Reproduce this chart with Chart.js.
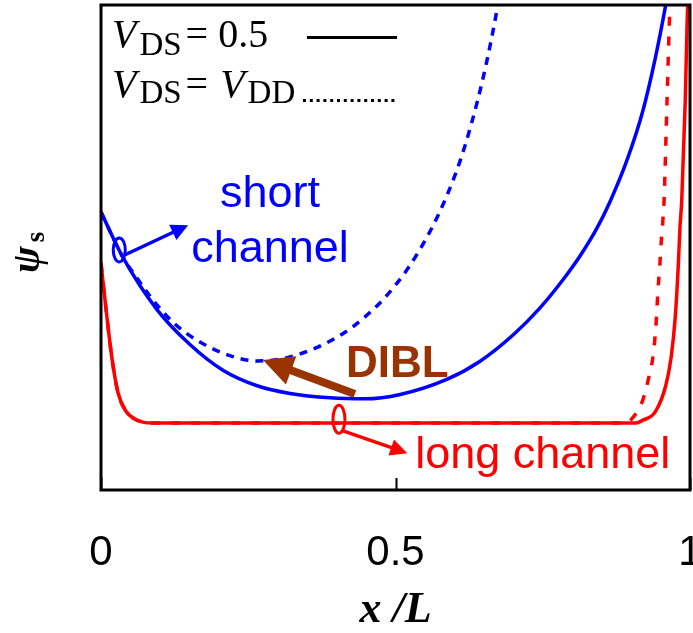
<!DOCTYPE html>
<html>
<head>
<meta charset="utf-8">
<script src="https://cdn.jsdelivr.net/npm/chart.js@4/dist/chart.umd.min.js"></script>
<style>
  html, body { margin: 0; padding: 0; background: #ffffff; }
  #wrap { width: 693px; height: 633px; }
</style>
</head>
<body>
<div id="wrap"><canvas id="c" width="693" height="633"></canvas></div>
<script>
// Horizontal axis: normalised position along the channel
const xTicks = [0, 0.5, 1];
const xTickLabels = ['0', '0.5', '1'];

// Short channel, V_DS = 0.5
const shortLowX = [0.000, 0.037, 0.095, 0.151, 0.207, 0.265, 0.321, 0.389, 0.448, 0.508, 0.587, 0.643, 0.700, 0.745, 0.784, 0.813, 0.842, 0.864, 0.893, 0.920, 0.941, 0.958, 0.970];
const shortLowY = [0.573, 0.480, 0.372, 0.300, 0.247, 0.215, 0.199, 0.190, 0.188, 0.197, 0.228, 0.265, 0.320, 0.375, 0.433, 0.482, 0.540, 0.594, 0.680, 0.782, 0.890, 0.995, 1.080];

// Short channel, V_DS = V_DD
const shortHighX = [0.000, 0.037, 0.061, 0.083, 0.122, 0.168, 0.219, 0.265, 0.309, 0.367, 0.406, 0.428, 0.462, 0.480, 0.499, 0.520, 0.538, 0.559, 0.579, 0.601, 0.618, 0.640, 0.655, 0.668, 0.680];
const shortHighY = [0.573, 0.480, 0.437, 0.400, 0.346, 0.305, 0.277, 0.266, 0.271, 0.294, 0.319, 0.337, 0.372, 0.394, 0.421, 0.455, 0.489, 0.534, 0.584, 0.649, 0.710, 0.806, 0.884, 0.962, 1.044];

// Long channel, V_DS = 0.5
const longLowX = [0.000, 0.010, 0.019, 0.029, 0.041, 0.058, 0.087, 0.300, 0.600, 0.908, 0.920, 0.941, 0.959, 0.968, 0.975, 0.980, 0.983, 0.986, 0.992, 0.995, 0.998];
const longLowY = [0.468, 0.357, 0.268, 0.200, 0.165, 0.146, 0.138, 0.138, 0.138, 0.138, 0.144, 0.161, 0.216, 0.274, 0.357, 0.460, 0.542, 0.598, 0.804, 0.960, 1.050];

// Long channel, V_DS = V_DD
const longHighX = [0.000, 0.010, 0.019, 0.029, 0.041, 0.058, 0.087, 0.300, 0.600, 0.890, 0.900, 0.920, 0.929, 0.937, 0.942, 0.946, 0.949, 0.951, 0.954, 0.956, 0.961, 0.966, 0.968];
const longHighY = [0.468, 0.357, 0.268, 0.200, 0.165, 0.146, 0.138, 0.138, 0.138, 0.138, 0.145, 0.186, 0.227, 0.274, 0.336, 0.419, 0.468, 0.509, 0.557, 0.598, 0.804, 1.000, 1.050];

const BLUE = '#0000ff';
const RED = '#ff0000';
const BROWN = '#993300';

function pairs(xs, ys) {
  return xs.map((x, i) => ({ x: x, y: ys[i] }));
}

// Callouts placed in data units
const callouts = {
  shortRing: { x: 0.031, y: 0.495, rx: 6, ry: 12 },
  shortArrow: { from: [0.041, 0.485], to: [0.148, 0.546] },
  shortText: { x: 0.287, lines: [['short', 0.584], ['channel', 0.470]] },
  longRing: { x: 0.404, y: 0.146, rx: 6, ry: 14 },
  longArrow: { from: [0.411, 0.122], to: [0.520, 0.076] },
  longText: { x: 0.750, y: 0.045, text: 'long channel' },
  diblArrow: { from: [0.431, 0.198], to: [0.275, 0.268] },
  diblText: { x: 0.503, y: 0.233, text: 'DIBL' }
};

function arrow(ctx, x1, y1, x2, y2, color, width, headLen, headW) {
  const ang = Math.atan2(y2 - y1, x2 - x1);
  const bx = x2 - headLen * Math.cos(ang);
  const by = y2 - headLen * Math.sin(ang);
  ctx.save();
  ctx.strokeStyle = color;
  ctx.fillStyle = color;
  ctx.lineWidth = width;
  ctx.lineCap = 'butt';
  ctx.beginPath();
  ctx.moveTo(x1, y1);
  ctx.lineTo(bx + Math.cos(ang), by + Math.sin(ang));
  ctx.stroke();
  const px = -Math.sin(ang), py = Math.cos(ang);
  ctx.beginPath();
  ctx.moveTo(x2, y2);
  ctx.lineTo(bx + px * headW / 2, by + py * headW / 2);
  ctx.lineTo(bx - px * headW / 2, by - py * headW / 2);
  ctx.closePath();
  ctx.fill();
  ctx.restore();
}

const decorations = {
  id: 'decorations',
  afterDatasetsDraw(chart) {
    const ctx = chart.ctx;
    const xs = chart.scales.x, ys = chart.scales.y;
    const X = v => xs.getPixelForValue(v);
    const Y = v => ys.getPixelForValue(v);
    const a = chart.chartArea;

    // frame and inward ticks
    ctx.save();
    ctx.strokeStyle = '#000';
    ctx.lineWidth = 3;
    ctx.strokeRect(a.left, a.top, a.right - a.left, a.bottom - a.top);
    ctx.lineWidth = 2;
    xTicks.forEach(t => {
      const p = Math.round(X(t)) + 0.5;
      ctx.beginPath();
      ctx.moveTo(p, a.bottom);
      ctx.lineTo(p, a.bottom - 12);
      ctx.stroke();
    });
    ctx.restore();

    // ring markers
    ctx.save();
    ctx.lineWidth = 3;
    [[callouts.shortRing, BLUE], [callouts.longRing, RED]].forEach(([r, c]) => {
      ctx.strokeStyle = c;
      ctx.beginPath();
      ctx.ellipse(X(r.x), Y(r.y), r.rx, r.ry, 0, 0, Math.PI * 2);
      ctx.stroke();
    });
    ctx.restore();

    // arrows
    const sa = callouts.shortArrow, la = callouts.longArrow, da = callouts.diblArrow;
    arrow(ctx, X(sa.from[0]), Y(sa.from[1]), X(sa.to[0]), Y(sa.to[1]), BLUE, 3.5, 17, 17);
    arrow(ctx, X(la.from[0]), Y(la.from[1]), X(la.to[0]), Y(la.to[1]), RED, 3.5, 17, 17);
    arrow(ctx, X(da.from[0]), Y(da.from[1]), X(da.to[0]), Y(da.to[1]), BROWN, 8, 30, 30);

    // callout labels
    ctx.save();
    ctx.textBaseline = 'alphabetic';
    ctx.textAlign = 'center';
    ctx.fillStyle = BLUE;
    ctx.font = "45px 'Liberation Sans', Arial, sans-serif";
    callouts.shortText.lines.forEach(([t, y]) => ctx.fillText(t, X(callouts.shortText.x), Y(y)));
    ctx.fillStyle = RED;
    ctx.fillText(callouts.longText.text, X(callouts.longText.x), Y(callouts.longText.y));
    ctx.fillStyle = BROWN;
    ctx.font = "bold 44px 'Liberation Sans', Arial, sans-serif";
    ctx.fillText(callouts.diblText.text, X(callouts.diblText.x), Y(callouts.diblText.y));
    ctx.restore();

    // line-style key
    const L = a.left;
    ctx.save();
    ctx.fillStyle = '#000';
    ctx.textAlign = 'left';
    ctx.textBaseline = 'alphabetic';
    const serif = "'Liberation Serif', 'Times New Roman', serif";
    const rows = [
      { base: 47, sub: 55, parts: [['V', 'italic'], ['DS', 'sub'], ['= 0.5', 'plain']] },
      { base: 97, sub: 103, parts: [['V', 'italic'], ['DS', 'sub'], ['= ', 'plain'], ['V', 'italic'], ['DD', 'sub']] }
    ];
    rows.forEach(row => {
      let x = L + 11;
      row.parts.forEach(([t, kind]) => {
        if (kind === 'italic') { ctx.font = 'italic 40px ' + serif; ctx.fillText(t, x, row.base); x += ctx.measureText(t).width + 3; }
        else if (kind === 'sub') { ctx.font = '33px ' + serif; ctx.fillText(t, x, row.sub); x += ctx.measureText(t).width + 4; }
        else { ctx.font = '40px ' + serif; ctx.fillText(t, x, row.base); x += ctx.measureText(t).width + 2; }
      });
    });
    ctx.strokeStyle = '#000';
    ctx.lineWidth = 3;
    ctx.beginPath();
    ctx.moveTo(L + 206, 37.5);
    ctx.lineTo(L + 296, 37.5);
    ctx.stroke();
    ctx.setLineDash([3, 3.8]);
    ctx.beginPath();
    ctx.moveTo(L + 202, 100.5);
    ctx.lineTo(L + 297, 100.5);
    ctx.stroke();
    ctx.restore();

    // vertical axis title: psi with subscript s
    ctx.save();
    ctx.translate(30, 250);
    ctx.rotate(-Math.PI / 2);
    ctx.fillStyle = '#000';
    ctx.textAlign = 'left';
    ctx.textBaseline = 'alphabetic';
    ctx.font = 'italic bold 40px ' + serif;
    ctx.fillText('ψ', -23, 9);
    const w = ctx.measureText('ψ').width;
    ctx.font = 'bold 27px ' + serif;
    ctx.fillText('s', -23 + w + 4, 14);
    ctx.restore();
  }
};

new Chart(document.getElementById('c'), {
  type: 'line',
  data: {
    datasets: [
      { label: 'long, V_DS = 0.5', data: pairs(longLowX, longLowY), borderColor: RED, borderWidth: 3.5, order: 0 },
      { label: 'long, V_DS = V_DD', data: pairs(longHighX, longHighY), borderColor: RED, borderWidth: 3.5, borderDash: [9, 11], order: 1 },
      { label: 'short, V_DS = 0.5', data: pairs(shortLowX, shortLowY), borderColor: BLUE, borderWidth: 3.5, order: 2 },
      { label: 'short, V_DS = V_DD', data: pairs(shortHighX, shortHighY), borderColor: BLUE, borderWidth: 3.5, borderDash: [8, 7], order: 3 }
    ]
  },
  options: {
    responsive: false,
    animation: false,
    devicePixelRatio: 1,
    layout: { padding: { top: 5, right: 3, left: 0, bottom: 0 } },
    elements: {
      point: { radius: 0, hoverRadius: 0 },
      line: { fill: false, cubicInterpolationMode: 'monotone' }
    },
    plugins: { legend: { display: false }, tooltip: { enabled: false } },
    scales: {
      x: {
        type: 'linear',
        min: 0,
        max: 1,
        afterBuildTicks: s => { s.ticks = xTicks.map(v => ({ value: v })); },
        ticks: {
          padding: 38,
          maxRotation: 0,
          autoSkip: false,
          color: '#000',
          font: { family: "'Liberation Sans', Arial, sans-serif", size: 42 },
          callback: v => xTickLabels[xTicks.indexOf(v)]
        },
        grid: { display: false, drawTicks: false },
        border: { display: false },
        title: {
          display: true,
          text: 'x /L',
          color: '#000',
          padding: 0,
          font: { family: "'Liberation Serif', 'Times New Roman', serif", size: 44, style: 'italic', weight: 'bold', lineHeight: 1 }
        },
        afterFit: s => { s.height = 143; s.paddingLeft = 0; s.paddingRight = 0; }
      },
      y: {
        type: 'linear',
        min: 0,
        max: 1,
        ticks: { display: false },
        grid: { display: false, drawTicks: false },
        border: { display: false },
        afterFit: s => { s.width = 101; s.paddingTop = 0; s.paddingBottom = 0; }
      }
    }
  },
  plugins: [decorations]
});
</script>
</body>
</html>
